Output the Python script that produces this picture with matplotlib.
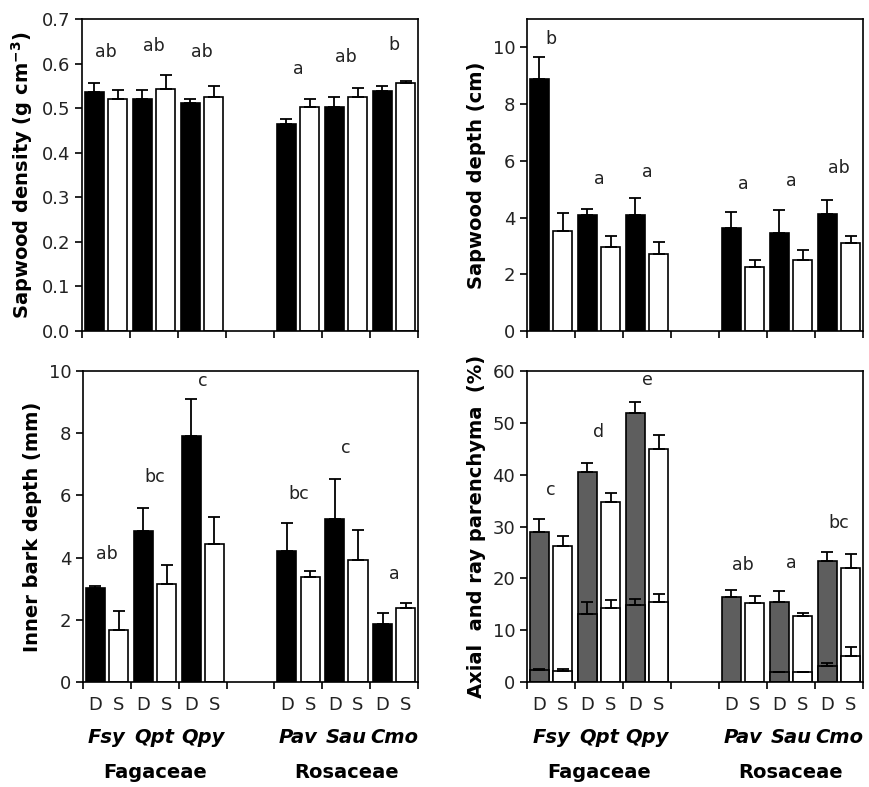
import numpy as np
import matplotlib
matplotlib.use("Agg")
import matplotlib.pyplot as plt
from matplotlib.transforms import blended_transform_factory

plt.rcParams['font.family'] = ['DejaVu Sans']
plt.rcParams['mathtext.fontset'] = 'custom'
plt.rcParams['mathtext.rm'] = 'DejaVu Sans:bold'
plt.rcParams['mathtext.bf'] = 'DejaVu Sans:bold'

species = ['Fsy', 'Qpt', 'Qpy', 'Pav', 'Sau', 'Cmo']
families = ['Fagaceae', 'Rosaceae']
group_pos = [0, 1, 2, 4, 5, 6]  # group slots; slot 3 empty

# Sapwood density (g cm-3)
dens_D = [0.536, 0.521, 0.511, 0.464, 0.502, 0.539]
dens_D_err = [0.021, 0.019, 0.010, 0.012, 0.022, 0.011]
dens_S = [0.521, 0.542, 0.524, 0.502, 0.524, 0.556]
dens_S_err = [0.019, 0.033, 0.025, 0.019, 0.021, 0.006]
dens_letters = ['ab', 'ab', 'ab', 'a', 'ab', 'b']
dens_letter_y = [0.627, 0.640, 0.625, 0.588, 0.614, 0.642]

# Sapwood depth (cm)
sdep_D = [8.90, 4.08, 4.08, 3.63, 3.47, 4.14]
sdep_D_err = [0.77, 0.22, 0.61, 0.57, 0.79, 0.49]
sdep_S = [3.53, 2.97, 2.73, 2.24, 2.51, 3.12]
sdep_S_err = [0.63, 0.39, 0.40, 0.27, 0.34, 0.24]
sdep_letters = ['b', 'a', 'a', 'a', 'a', 'ab']
sdep_letter_y = [10.3, 5.37, 5.6, 5.2, 5.3, 5.75]

# Inner bark depth (mm)
bark_D = [3.02, 4.84, 7.90, 4.22, 5.25, 1.87]
bark_D_err = [0.08, 0.75, 1.21, 0.88, 1.27, 0.34]
bark_S = [1.68, 3.15, 4.44, 3.37, 3.91, 2.38]
bark_S_err = [0.61, 0.60, 0.85, 0.20, 0.98, 0.15]
bark_letters = ['ab', 'bc', 'c', 'bc', 'c', 'a']
bark_letter_y = [4.1, 6.58, 9.68, 6.06, 7.54, 3.47]

# Axial and ray parenchyma (%) : total and axial part
par_D = [28.9, 40.6, 51.9, 16.4, 15.4, 23.4]
par_D_err = [2.5, 1.6, 2.2, 1.4, 2.1, 1.6]
par_S = [26.2, 34.8, 44.9, 15.2, 12.8, 21.9]
par_S_err = [1.9, 1.6, 2.8, 1.3, 0.6, 2.7]
ax_D = [2.25, 13.1, 14.9, np.nan, 1.86, 3.0]
ax_D_err = [0.3, 2.4, 1.2, np.nan, 0.0, 0.6]
ax_S = [2.05, 14.3, 15.5, np.nan, 1.9, 5.1]
ax_S_err = [0.5, 1.6, 1.5, np.nan, 0.1, 1.6]
par_letters = ['c', 'd', 'e', 'ab', 'a', 'bc']
par_letter_y = [37.0, 48.3, 58.3, 22.6, 23.0, 30.7]

fig = plt.figure(figsize=(8.69, 7.87), dpi=100)
W, H = 869, 787

def make_ax(x0, x1, y0, y1):
    return fig.add_axes([x0 / W, 1 - y1 / H, (x1 - x0) / W, (y1 - y0) / H])

ax1 = make_ax(82, 418, 19, 331)
ax2 = make_ax(527, 863, 19, 331)
ax3 = make_ax(83, 418, 371, 682)
ax4 = make_ax(527, 863, 371, 682)

gp = np.array(group_pos, dtype=float)
xD = gp + 0.26
xS = gp + 0.745
bw = 0.40
ekw = dict(fmt='none', ecolor='black', elinewidth=1.3, capsize=4.5, capthick=1.3)

def draw(ax, D, De, S, Se, letters, ly, ylim, yticks, fmt, label, dcolor='black'):
    ax.bar(xD, D, bw, color=dcolor, edgecolor='black', linewidth=1.2, zorder=2)
    ax.bar(xS, S, bw, color='white', edgecolor='black', linewidth=1.2, zorder=2)
    ax.errorbar(xD, D, yerr=[np.zeros(6), De], zorder=3, **ekw)
    ax.errorbar(xS, S, yerr=[np.zeros(6), Se], zorder=3, **ekw)
    for g, t, y in zip(gp, letters, ly):
        ax.text(g + 0.5, y, t, ha='center', va='center', fontsize=12.5, color='#222222')
    ax.set_xlim(0, 7)
    ax.set_ylim(*ylim)
    ax.set_yticks(yticks)
    ax.set_yticklabels([fmt.format(v) for v in yticks])
    ax.set_xticks(np.arange(0, 8))
    ax.set_xticklabels([])
    ax.tick_params(axis='both', direction='out', length=5, width=1.2, labelsize=13,
                   labelcolor='#222222')
    for s in ax.spines.values():
        s.set_linewidth(1.2)
    ax.set_ylabel(label, fontsize=14, fontweight='bold', labelpad=5)

draw(ax1, dens_D, dens_D_err, dens_S, dens_S_err, dens_letters, dens_letter_y,
     (0, 0.7), np.arange(0, 0.71, 0.1), '{:.1f}', r'Sapwood density (g cm$^{-3}$)')
draw(ax2, sdep_D, sdep_D_err, sdep_S, sdep_S_err, sdep_letters, sdep_letter_y,
     (0, 11), np.arange(0, 11, 2), '{:.0f}', 'Sapwood depth (cm)')
draw(ax3, bark_D, bark_D_err, bark_S, bark_S_err, bark_letters, bark_letter_y,
     (0, 10), np.arange(0, 11, 2), '{:.0f}', 'Inner bark depth (mm)')
draw(ax4, par_D, par_D_err, par_S, par_S_err, par_letters, par_letter_y,
     (0, 60), np.arange(0, 61, 10), '{:.0f}', 'Axial  and ray parenchyma  (%)',
     dcolor='#5e5e5e')

# axial parenchyma portion in bottom-right panel
aD = np.array(ax_D); aS = np.array(ax_S)
mD = ~np.isnan(aD); mS = ~np.isnan(aS)
ax4.bar(xD[mD], aD[mD], bw, color='#5e5e5e', edgecolor='black', linewidth=1.2, zorder=2.5)
ax4.bar(xS[mS], aS[mS], bw, color='white', edgecolor='black', linewidth=1.2, zorder=2.5)
ax4.errorbar(xD[mD], aD[mD], yerr=[np.zeros(mD.sum()), np.array(ax_D_err)[mD]], zorder=3, **ekw)
ax4.errorbar(xS[mS], aS[mS], yerr=[np.zeros(mS.sum()), np.array(ax_S_err)[mS]], zorder=3, **ekw)

for ax in (ax3, ax4):
    tr = blended_transform_factory(ax.transData, ax.transAxes)
    for x in xD:
        ax.text(x, -0.075, 'D', transform=tr, ha='center', va='center', fontsize=13,
                color='#222222')
    for x in xS:
        ax.text(x, -0.075, 'S', transform=tr, ha='center', va='center', fontsize=13,
                color='#222222')
    for g, sp in zip(gp, species):
        ax.text(g + 0.5, -0.18, sp, transform=tr, ha='center', va='center',
                fontsize=14, fontweight='bold', fontstyle='italic')
    ax.text(1.5, -0.29, families[0], transform=tr, ha='center', va='center',
            fontsize=14, fontweight='bold')
    ax.text(5.5, -0.29, families[1], transform=tr, ha='center', va='center',
            fontsize=14, fontweight='bold')

fig.savefig('out.png', dpi=100)
